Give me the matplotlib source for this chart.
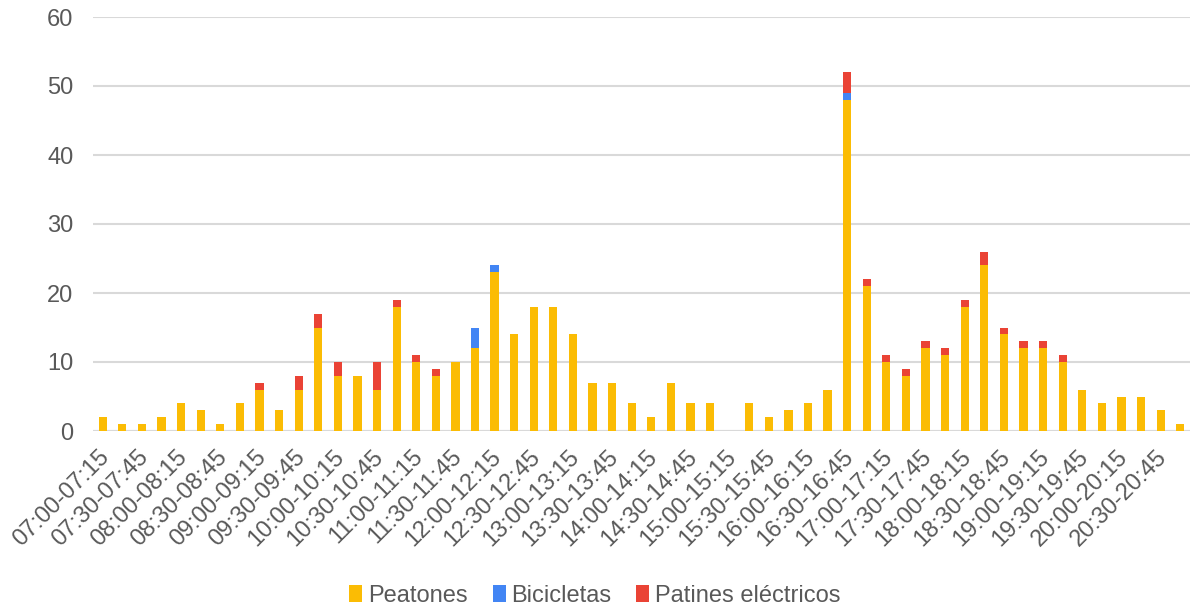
import matplotlib
matplotlib.use("Agg")
import matplotlib.pyplot as plt
import numpy as np
from matplotlib.transforms import ScaledTranslation

# 15-minute intervals from 07:00 to 21:00
categories = []
for h in range(7, 21):
    for m in (0, 15, 30, 45):
        m2 = m + 15
        h2 = h + (1 if m2 == 60 else 0)
        m2 = 0 if m2 == 60 else m2
        categories.append(f"{h:02d}:{m:02d}-{h2:02d}:{m2:02d}")

peatones = [2, 1, 1, 2, 4, 3, 1, 4, 6, 3, 6, 15, 8, 8, 6, 18, 10, 8, 10, 12,
            23, 14, 18, 18, 14, 7, 7, 4, 2, 7, 4, 4, 0, 4, 2, 3, 4, 6, 48, 21,
            10, 8, 12, 11, 18, 24, 14, 12, 12, 10, 6, 4, 5, 5, 3, 1]
bicicletas = [0, 0, 0, 0, 0, 0, 0, 0, 0, 0, 0, 0, 0, 0, 0, 0, 0, 0, 0, 3,
              1, 0, 0, 0, 0, 0, 0, 0, 0, 0, 0, 0, 0, 0, 0, 0, 0, 0, 1, 0,
              0, 0, 0, 0, 0, 0, 0, 0, 0, 0, 0, 0, 0, 0, 0, 0]
patines = [0, 0, 0, 0, 0, 0, 0, 0, 1, 0, 2, 2, 2, 0, 4, 1, 1, 1, 0, 0,
           0, 0, 0, 0, 0, 0, 0, 0, 0, 0, 0, 0, 0, 0, 0, 0, 0, 0, 3, 1,
           1, 1, 1, 1, 1, 2, 1, 1, 1, 1, 0, 0, 0, 0, 0, 0]
series_names = ["Peatones", "Bicicletas", "Patines eléctricos"]
colors = ["#FBBC04", "#4285F4", "#EA4335"]
yticks = [0, 10, 20, 30, 40, 50, 60]

plt.rcParams['font.family'] = ['Liberation Sans', 'DejaVu Sans']
text_color = "#595959"

fig = plt.figure(figsize=(11.9, 6.1), dpi=100)
ax = fig.add_axes([93 / 1190, 1 - 431 / 610, 1 - 93 / 1190, (431 - 17) / 610])

x = np.arange(len(categories))
p = np.array(peatones)
b = np.array(bicicletas)
r = np.array(patines)
w = 0.42
ax.bar(x, p, w, color=colors[0], label=series_names[0], zorder=3)
ax.bar(x, b, w, bottom=p, color=colors[1], label=series_names[1], zorder=3)
ax.bar(x, r, w, bottom=p + b, color=colors[2], label=series_names[2], zorder=3)

ax.set_xlim(-0.5, len(categories) - 0.5)
ax.set_ylim(0, 60)
ax.set_yticks(yticks)
ax.yaxis.grid(True, color="#d9d9d9", linewidth=1.5, zorder=0)
ax.set_axisbelow(True)
for s in ax.spines.values():
    s.set_visible(False)
ax.axhline(0, color="#d9d9d9", linewidth=1.5, zorder=1)

ax.tick_params(axis='y', length=0, pad=14, labelsize=17, labelcolor=text_color)
ax.tick_params(axis='x', length=0, pad=2, labelsize=17, labelcolor=text_color)

tick_pos = x[::2]
ax.set_xticks(tick_pos)
labels = ax.set_xticklabels([categories[i] for i in tick_pos], rotation=45,
                            ha='right', va='center', rotation_mode='anchor')
offset = ScaledTranslation(3 / 100, -20 / 100, fig.dpi_scale_trans)
for lab in labels:
    lab.set_transform(lab.get_transform() + offset)

leg = fig.legend(loc='lower center', bbox_to_anchor=(0.5, -0.03), ncol=3,
                 frameon=False, fontsize=17, handlelength=0.55, handleheight=0.75,
                 handletextpad=0.25, columnspacing=1.05, labelcolor=text_color)

fig.savefig("out.png", dpi=100)
